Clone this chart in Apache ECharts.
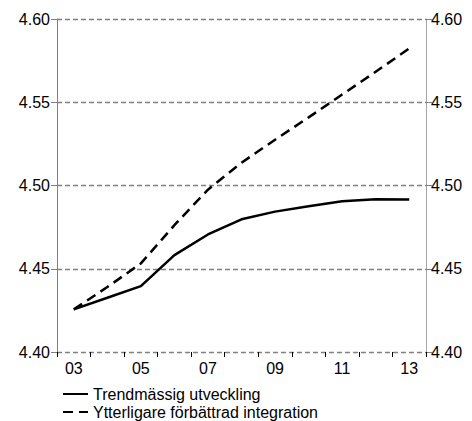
<!DOCTYPE html>
<html><head><meta charset="utf-8">
<script src="https://cdn.jsdelivr.net/npm/echarts@6/dist/echarts.min.js"></script>
<style>html,body{margin:0;padding:0;background:#fff}#c{width:472px;height:421px}</style>
</head><body><div id="c"></div>
<script>
const years = ['03','04','05','06','07','08','09','10','11','12','13'];
const trend = [4.4256, 4.4326, 4.4396, 4.4582, 4.4706, 4.4797, 4.4843, 4.4876, 4.4906, 4.4918, 4.4916];
const integration = [4.4256, 4.4390, 4.4532, 4.4762, 4.4975, 4.5137, 4.5275, 4.5409, 4.5546, 4.5683, 4.5823];
const yTicks = [4.40, 4.45, 4.50, 4.55, 4.60];
const names = ['Trendmässig utveckling', 'Ytterligare förbättrad integration'];

const font = 'Liberation Sans, Arial, sans-serif';
const chart = echarts.init(document.getElementById('c'), null, {renderer: 'svg'});
const yAxisBase = (pos) => ({
  type: 'value', position: pos, min: yTicks[0], max: yTicks[yTicks.length-1], interval: 0.05,
  axisLine: {show: true, lineStyle: {color: pos === 'left' ? '#808080' : '#a6a6a6', width: 1}},
  axisTick: {show: true, length: 6, lineStyle: {color: '#808080'}},
  axisLabel: {color: '#000', fontFamily: font, fontSize: 16, margin: pos === 'left' ? 7 : 5,
    formatter: v => v.toFixed(2)},
  splitLine: {show: pos === 'left', lineStyle: {color: '#808080', type: [5, 3], width: 1.3}}
});
chart.setOption({
  animation: false,
  grid: {left: 57, right: 46, top: 19, bottom: 69, containLabel: false},
  legend: {
    orient: 'vertical', left: 62, top: 386, padding: 0, height: 40, itemGap: 2, itemWidth: 25, itemHeight: 16,
    itemStyle: {opacity: 0},
    textStyle: {color: '#000', fontFamily: font, fontSize: 16},
    data: names
  },
  xAxis: {
    type: 'category', data: years, boundaryGap: true,
    axisLine: {show: true, lineStyle: {color: 'rgba(0,0,0,0)'}},
    axisTick: {show: true, interval: 0, length: 5, lineStyle: {color: '#000'}},
    axisLabel: {interval: 1, color: '#000', fontFamily: font, fontSize: 16, margin: 8}
  },
  yAxis: [yAxisBase('left'), yAxisBase('right')],
  series: [
    {name: names[0], type: 'line', data: trend, symbol: 'none',
      lineStyle: {color: '#000', width: 2.5, type: 'solid'}, itemStyle: {color: '#000'}},
    {name: names[1], type: 'line', data: integration, symbol: 'none',
      lineStyle: {color: '#000', width: 2.5, type: [10, 6]}, itemStyle: {color: '#000'}}
  ]
});
</script></body></html>
